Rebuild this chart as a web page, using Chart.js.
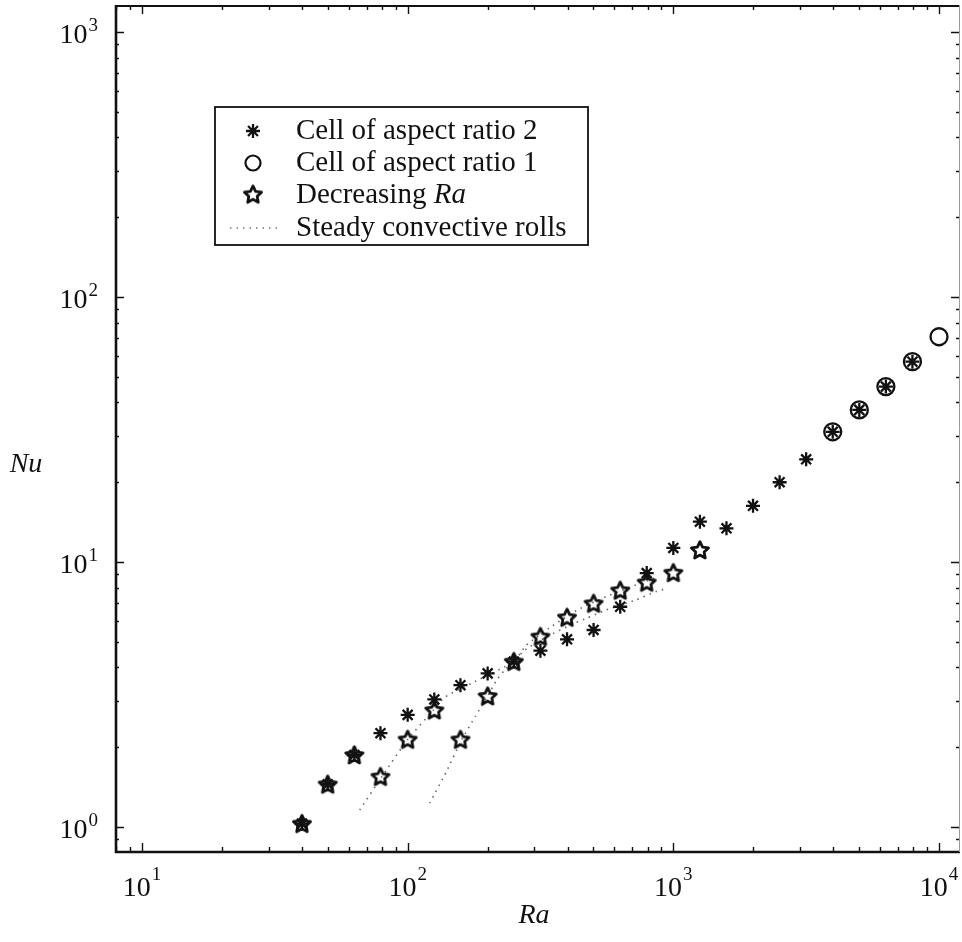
<!DOCTYPE html>
<html>
<head>
<meta charset="utf-8">
<script src="https://cdn.jsdelivr.net/npm/chart.js@4.4.1/dist/chart.umd.min.js"></script>
<style>
  html, body { margin: 0; padding: 0; background: #fff; }
  #wrap { width: 962px; height: 942px; }
</style>
</head>
<body>
<div id="wrap"><canvas id="nuChart" width="962" height="942"></canvas></div>
<script>
/* =========================
   DATA
========================= */
// cell of aspect ratio 2 (asterisks)
const raAspect2 = [40, 50, 63, 79, 100, 126, 158, 200, 251, 316, 398, 501, 631, 794, 1000, 1259, 1585, 1995, 2512, 3162, 3981, 5012, 6310, 7943];
const nuAspect2 = [1.03, 1.45, 1.87, 2.26, 2.65, 3.03, 3.43, 3.80, 4.21, 4.63, 5.11, 5.54, 6.78, 9.08, 11.3, 14.2, 13.4, 16.3, 20.0, 24.4, 31.0, 37.5, 45.9, 57.0];

// cell of aspect ratio 1 (circles)
const raAspect1 = [3981, 5012, 6310, 7943, 10000];
const nuAspect1 = [31.0, 37.5, 45.9, 57.0, 70.8];

// decreasing Ra (stars)
const raDecr = [40, 50, 63, 79, 100, 126, 158, 200, 251, 316, 398, 501, 631, 794, 1000, 1259];
const nuDecr = [1.03, 1.45, 1.87, 1.55, 2.14, 2.76, 2.14, 3.12, 4.21, 5.23, 6.18, 6.98, 7.82, 8.38, 9.11, 11.1];

// steady convective rolls (two dotted branches)
const raRollsA = [66, 80, 100, 125, 138, 180, 250, 280, 347, 440, 558, 722, 880];
const nuRollsA = [1.16, 1.55, 2.14, 2.76, 3.09, 3.55, 4.2, 4.86, 5.7, 6.63, 7.4, 8.19, 8.8];
const raRollsB = [121, 140, 160, 180, 200, 217, 232, 280, 350, 428, 470, 558, 722, 859, 944];
const nuRollsB = [1.23, 1.62, 2.14, 2.62, 3.12, 3.61, 3.91, 4.7, 5.35, 5.9, 6.12, 6.59, 7.19, 7.73, 7.94];

// axis ticks (powers of ten)
const xTickExps = [1, 2, 3, 4];
const yTickExps = [0, 1, 2, 3];

const serif = '"Liberation Serif", "Times New Roman", serif';
const ink = "#111";

function pairs(xs, ys) {
  return xs.map((v, i) => ({ x: v, y: ys[i] }));
}

/* =========================
   MARKERS
========================= */
function makeStar() {
  const c = document.createElement("canvas");
  c.width = 24; c.height = 24;
  const g = c.getContext("2d");
  const R = 9, r = 4.4;
  g.beginPath();
  for (let i = 0; i < 10; i++) {
    const rad = (i % 2 === 0) ? R : r;
    const ang = -Math.PI / 2 + i * Math.PI / 5;
    const px = 12 + rad * Math.cos(ang);
    const py = 12.7 + rad * Math.sin(ang);
    if (i === 0) g.moveTo(px, py); else g.lineTo(px, py);
  }
  g.closePath();
  g.lineWidth = 2.8;
  g.lineJoin = "round";
  g.strokeStyle = ink;
  g.stroke();
  return c;
}
const starImg = makeStar();

function drawAsterisk(ctx, x, y, r) {
  ctx.save();
  ctx.strokeStyle = ink;
  ctx.lineWidth = 2.3;
  ctx.beginPath();
  for (let k = 0; k < 4; k++) {
    const a = k * Math.PI / 4;
    ctx.moveTo(x - r * Math.cos(a), y - r * Math.sin(a));
    ctx.lineTo(x + r * Math.cos(a), y + r * Math.sin(a));
  }
  ctx.stroke();
  ctx.restore();
}

/* =========================
   FRAME, TICKS, LABELS, LEGEND
========================= */
const framePlugin = {
  id: "frame",
  afterDraw(chart) {
    const { ctx, chartArea: a, scales } = chart;
    const xs = scales.x, ys = scales.y;
    ctx.save();

    // tick marks, inside on all four sides
    ctx.strokeStyle = ink;
    ctx.lineWidth = 1.4;
    ctx.beginPath();
    for (let e = 0; e <= 4; e++) {
      for (let m = 1; m <= 9; m++) {
        const v = m * Math.pow(10, e);
        if (v < xs.min || v > xs.max) continue;
        const px = Math.round(xs.getPixelForValue(v)) + 0.5;
        const len = m === 1 ? 9 : 5;
        ctx.moveTo(px, a.bottom); ctx.lineTo(px, a.bottom - len);
        ctx.moveTo(px, a.top); ctx.lineTo(px, a.top + len);
      }
    }
    for (let e = -1; e <= 3; e++) {
      for (let m = 1; m <= 9; m++) {
        const v = m * Math.pow(10, e);
        if (v < ys.min || v > ys.max) continue;
        const py = Math.round(ys.getPixelForValue(v)) + 0.5;
        const len = m === 1 ? 9 : 4;
        ctx.moveTo(a.left, py); ctx.lineTo(a.left + len, py);
        ctx.moveTo(a.right, py); ctx.lineTo(a.right - len, py);
      }
    }
    ctx.stroke();

    // box
    ctx.lineWidth = 2.6;
    ctx.beginPath();
    ctx.moveTo(a.left + 1, a.top);
    ctx.lineTo(a.left + 1, a.bottom);
    ctx.lineTo(a.right, a.bottom);
    ctx.stroke();
    ctx.lineWidth = 1.8;
    ctx.beginPath();
    ctx.moveTo(a.left, a.top + 1);
    ctx.lineTo(a.right, a.top + 1);
    ctx.stroke();
    ctx.strokeStyle = "#999";
    ctx.lineWidth = 1;
    ctx.beginPath();
    ctx.moveTo(a.right - 0.5, a.top);
    ctx.lineTo(a.right - 0.5, a.bottom);
    ctx.stroke();

    // tick labels 10^n
    ctx.fillStyle = ink;
    ctx.textBaseline = "alphabetic";
    ctx.textAlign = "left";
    const baseFont = "28px " + serif, supFont = "19px " + serif;
    xTickExps.forEach(n => {
      const px = xs.getPixelForValue(Math.pow(10, n));
      ctx.font = baseFont;
      const wb = ctx.measureText("10").width;
      ctx.font = supFont;
      const wsup = ctx.measureText(String(n)).width;
      const x0 = px - (wb + wsup + 1) / 2;
      ctx.font = baseFont;
      ctx.fillText("10", x0, 896);
      ctx.font = supFont;
      ctx.fillText(String(n), x0 + wb + 1, 880);
    });
    yTickExps.forEach(n => {
      const py = ys.getPixelForValue(Math.pow(10, n));
      ctx.font = supFont;
      const wsup = ctx.measureText(String(n)).width;
      ctx.font = baseFont;
      const wb = ctx.measureText("10").width;
      const sx = 98 - wsup;
      ctx.fillText("10", sx - 1 - wb, py + 11);
      ctx.font = supFont;
      ctx.fillText(String(n), sx, py - 1);
    });

    // axis titles
    ctx.font = "italic 28px " + serif;
    ctx.textAlign = "center";
    ctx.textBaseline = "middle";
    ctx.fillText("Nu", 26, 465);
    ctx.fillText("Ra", 534, 916);

    // legend
    ctx.fillStyle = "#fff";
    ctx.fillRect(215, 107, 373, 138);
    ctx.strokeStyle = ink;
    ctx.lineWidth = 1.8;
    ctx.strokeRect(215, 107, 373, 138);
    const rows = [131, 163, 195, 228];
    const mx = 253, tx = 296;
    drawAsterisk(ctx, mx, rows[0], 7);
    ctx.beginPath();
    ctx.lineWidth = 2.2;
    ctx.arc(mx, rows[1], 7.5, 0, Math.PI * 2);
    ctx.stroke();
    ctx.drawImage(starImg, mx - 12, rows[2] - 12.7);
    ctx.save();
    ctx.strokeStyle = "#777";
    ctx.lineWidth = 1.5;
    ctx.setLineDash([1.5, 5]);
    ctx.beginPath();
    ctx.moveTo(230, rows[3]); ctx.lineTo(278, rows[3]);
    ctx.stroke();
    ctx.restore();

    ctx.fillStyle = ink;
    ctx.textAlign = "left";
    ctx.textBaseline = "middle";
    ctx.font = "29px " + serif;
    ctx.fillText("Cell of aspect ratio 2", tx, rows[0]);
    ctx.fillText("Cell of aspect ratio 1", tx, rows[1]);
    ctx.fillText("Decreasing ", tx, rows[2]);
    const wd = ctx.measureText("Decreasing ").width;
    ctx.font = "italic 29px " + serif;
    ctx.fillText("Ra", tx + wd, rows[2]);
    ctx.font = "29px " + serif;
    ctx.fillText("Steady convective rolls", tx, rows[3]);

    ctx.restore();
  }
};

/* =========================
   CHART
========================= */
const rollsStyle = {
  type: "line",
  showLine: true,
  borderColor: "#666",
  borderWidth: 1.6,
  borderDash: [1.5, 5],
  pointRadius: 0,
  fill: false,
  tension: 0.2
};

new Chart(document.getElementById("nuChart"), {
  type: "scatter",
  data: {
    datasets: [
      {
        label: "Cell of aspect ratio 1",
        data: pairs(raAspect1, nuAspect1),
        pointStyle: "circle",
        pointRadius: 8.5,
        borderWidth: 2.3,
        borderColor: ink,
        backgroundColor: "rgba(0,0,0,0)",
        order: 1
      },
      {
        label: "Cell of aspect ratio 2",
        data: pairs(raAspect2, nuAspect2),
        pointStyle: "star",
        pointRadius: 7,
        borderWidth: 2.3,
        borderColor: ink,
        backgroundColor: ink,
        order: 2
      },
      {
        label: "Decreasing Ra",
        data: pairs(raDecr, nuDecr),
        pointStyle: starImg,
        pointRadius: 9,
        order: 3
      },
      Object.assign({ label: "Steady convective rolls", data: pairs(raRollsA, nuRollsA), order: 4 }, rollsStyle),
      Object.assign({ label: "Steady convective rolls B", data: pairs(raRollsB, nuRollsB), order: 5 }, rollsStyle)
    ]
  },
  options: {
    responsive: false,
    animation: false,
    devicePixelRatio: 1,
    layout: { autoPadding: false, padding: { left: 0, right: 2, top: 5, bottom: 0 } },
    plugins: {
      legend: { display: false },
      tooltip: { enabled: false }
    },
    scales: {
      x: {
        type: "logarithmic",
        bounds: "data",
        min: 7.914,
        max: 11996,
        grid: { display: false },
        border: { display: false },
        ticks: { display: false },
        afterFit(s) { s.height = 90; }
      },
      y: {
        type: "logarithmic",
        bounds: "data",
        min: 0.805,
        max: 1264,
        grid: { display: false },
        border: { display: false },
        ticks: { display: false },
        afterFit(s) { s.width = 115; }
      }
    }
  },
  plugins: [framePlugin]
});
</script>
</body>
</html>
